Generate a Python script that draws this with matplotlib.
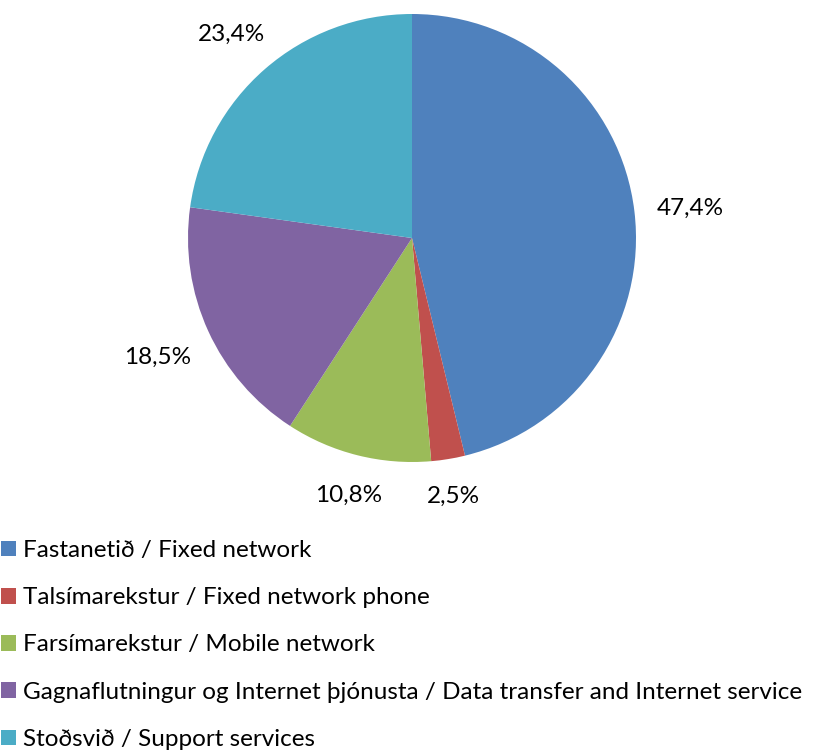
import numpy as np
import matplotlib
matplotlib.use("Agg")
import matplotlib.pyplot as plt

plt.rcParams['font.family'] = ['Lato', 'DejaVu Sans']

labels = ['Fastanetið / Fixed network',
          'Talsímarekstur / Fixed network phone',
          'Farsímarekstur / Mobile network',
          'Gagnaflutningur og Internet þjónusta / Data transfer and Internet service',
          'Stoðsvið / Support services']
shares = [47.4, 2.5, 10.8, 18.5, 23.4]
colors = ['#4F81BD', '#C0504D', '#9BBB59', '#8064A2', '#4BACC6']

W, H = 825, 755
fig = plt.figure(figsize=(W / 100, H / 100), dpi=100)

# pie axes: centre (412, 238) px, radius 224 px
R = 224
half = 300
ax = fig.add_axes([(412 - half) / W, (H - 238 - half) / H, 2 * half / W, 2 * half / H])

wedges, _ = ax.pie(shares, colors=colors, startangle=90, counterclock=False,
                   radius=1, wedgeprops=dict(linewidth=0))
ax.set_xlim(-half / R, half / R)
ax.set_ylim(-half / R, half / R)
ax.set_aspect('equal')
ax.axis('off')

# data labels "outside end": a gap beyond the rim plus half the text box along the angle
renderer = fig.canvas.get_renderer()
frac = np.array(shares) / np.sum(shares)
mid = np.deg2rad(90 - 360 * (np.cumsum(frac) - frac / 2))
gap, hh = 0.098, 0.036
for a, v in zip(mid, shares):
    t = ax.text(0, 0, f"{v:.1f}%".replace('.', ','), ha='center', va='center',
                fontsize=17.5, color='black')
    hw = t.get_window_extent(renderer).width / 2 / R
    c, s = np.cos(a), np.sin(a)
    r = 1 + gap + abs(c) * hw + abs(s) * hh
    t.set_position((r * c, r * s - 0.015))

fig.legend(wedges, labels, loc='upper left', bbox_to_anchor=(0.5 / W, 1 - 540 / H),
           frameon=False, fontsize=17.5, handlelength=0.62, handleheight=0.62,
           handletextpad=0.3, labelspacing=1.08, borderpad=0, borderaxespad=0)

fig.savefig('out.png', dpi=100)
